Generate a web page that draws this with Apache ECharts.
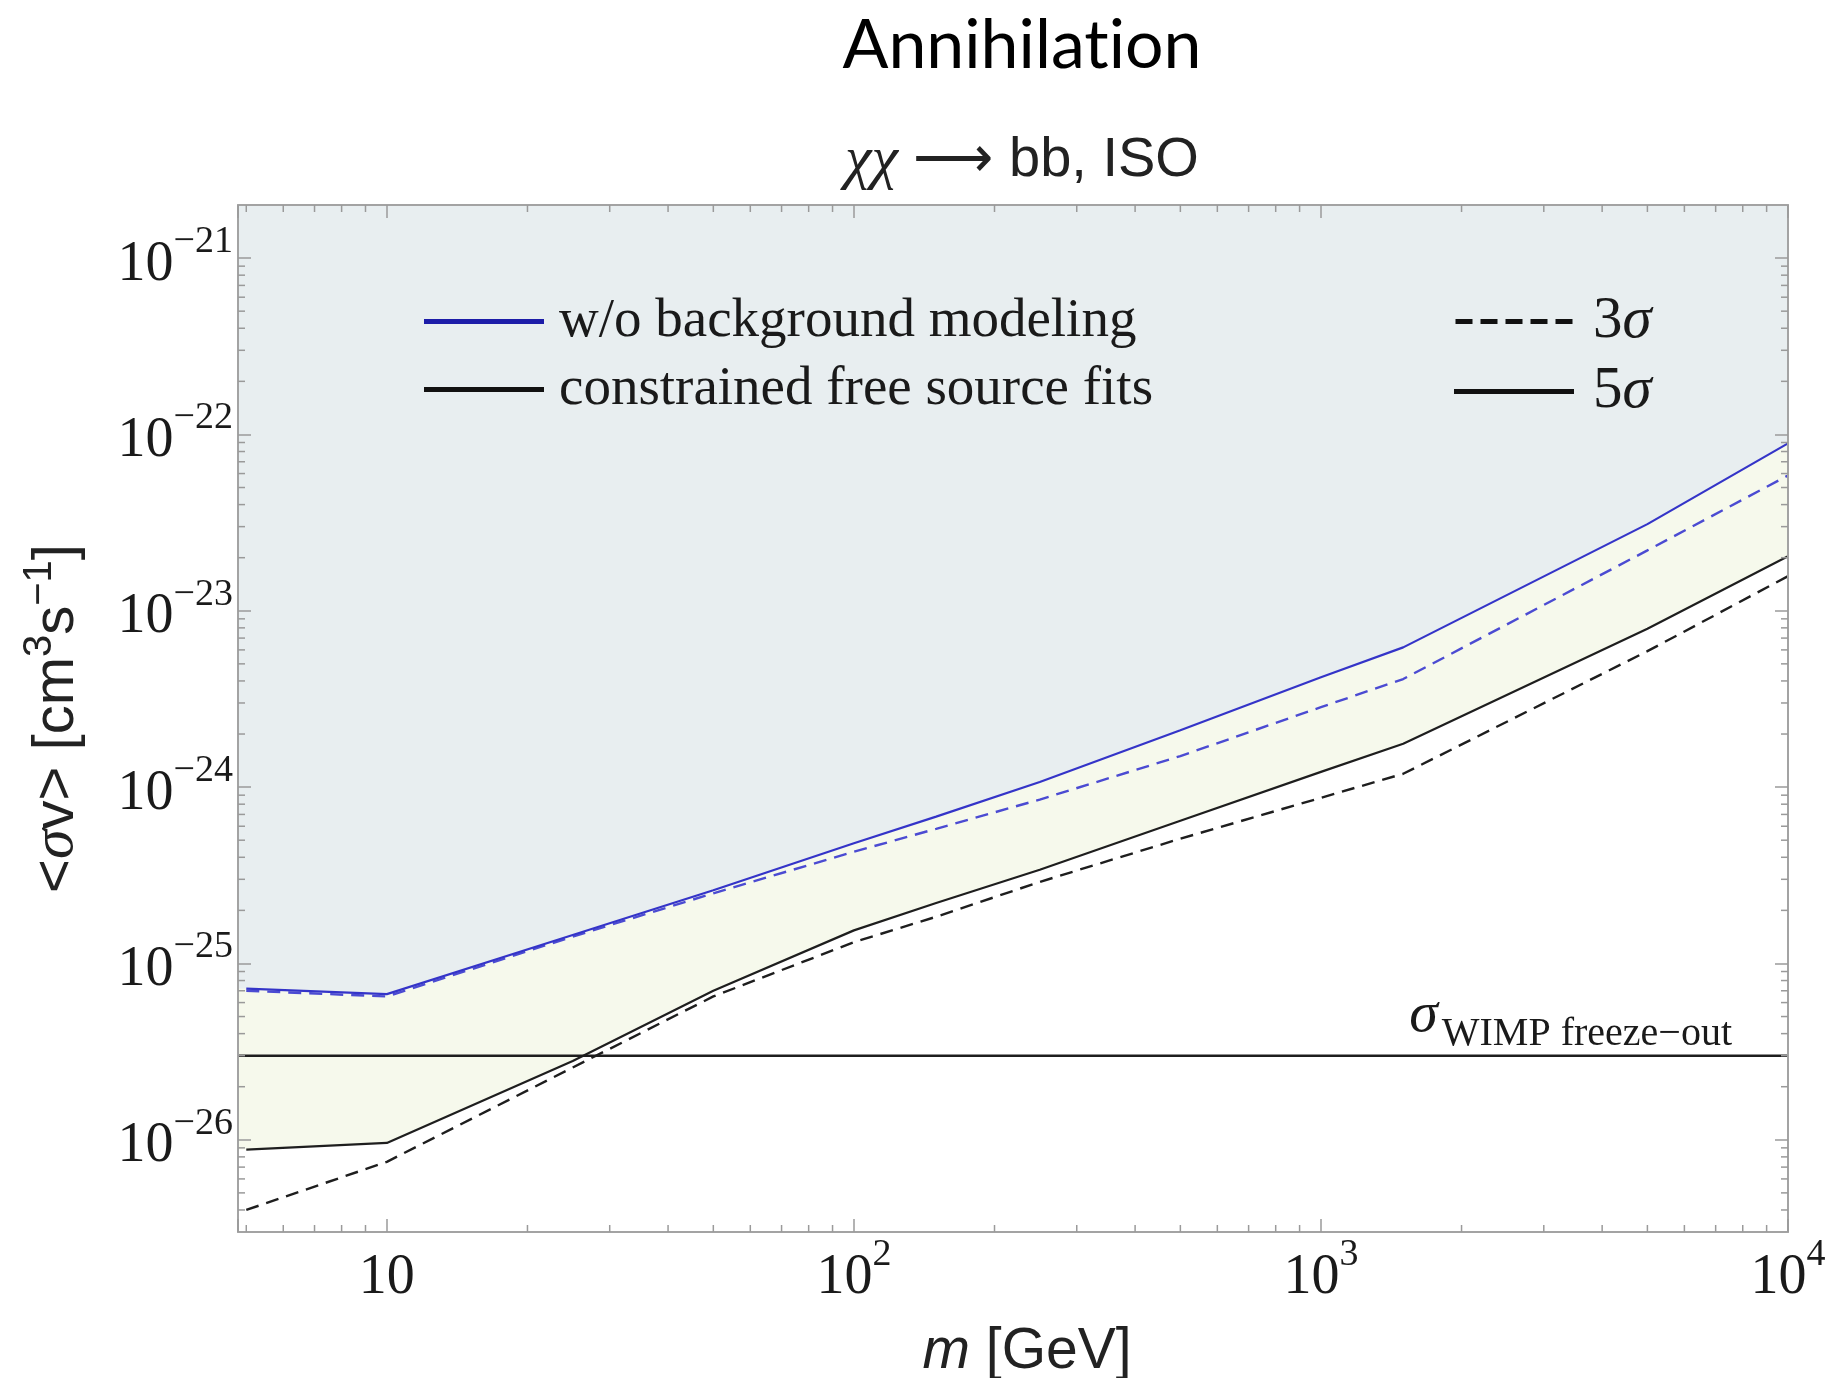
<!DOCTYPE html>
<html>
<head>
<meta charset="utf-8">
<script src="https://cdn.jsdelivr.net/npm/echarts@6/dist/echarts.min.js"></script>
<style>
html,body{margin:0;padding:0;background:#ffffff;}
#chart{width:1837px;height:1378px;}
</style>
</head>
<body>
<div id="chart"></div>
<script>
// ---------- data ----------
const masses = [5, 10, 25, 50, 100, 150, 250, 500, 1000, 1500, 5000, 10000];
const noBgModel5sigma = [7.2e-26, 6.7e-26, 1.45e-25, 2.6e-25, 4.8e-25, 6.8e-25, 1.07e-24, 2.1e-24, 4.2e-24, 6.2e-24, 3.1e-23, 8.9e-23];
const noBgModel3sigma = [7.0e-26, 6.5e-26, 1.42e-25, 2.5e-25, 4.3e-25, 5.8e-25, 8.5e-25, 1.5e-24, 2.84e-24, 4.1e-24, 2.2e-23, 5.85e-23];
const freeFits5sigma = [8.8e-27, 9.6e-27, 2.8e-26, 7.0e-26, 1.54e-25, 2.2e-25, 3.4e-25, 6.45e-25, 1.22e-24, 1.76e-24, 7.9e-24, 2.04e-23];
const freeFits3sigma = [4.0e-27, 7.5e-27, 2.57e-26, 6.5e-26, 1.32e-25, 1.84e-25, 2.9e-25, 5.1e-25, 8.7e-25, 1.19e-24, 5.9e-24, 1.57e-23];
const wimpFreezeOut = 3e-26;

const xRange = [4.8, 10000];
const yRange = [3e-27, 2e-21];
const xDecades = [1, 10, 100, 1000, 10000];
const yDecades = [1e-27, 1e-26, 1e-25, 1e-24, 1e-23, 1e-22, 1e-21];
const minorMultipliers = [2, 3, 4, 5, 6, 7, 8, 9];

const legendLeftNames = ['w/o background modeling', 'constrained free source fits'];
const legendRightNames = ['3σ', '5σ'];

// ---------- helpers ----------
const SERIF = 'Liberation Serif';
const SANS = 'Liberation Sans';
const TEXT = '#1a1a1a';
const FRAME = '#a3a3a3';
const TICK = '#9a9a9a';

const pairs = (ys) => masses.map((m, i) => [m, ys[i]]);
const xMinor = xDecades.flatMap(d => minorMultipliers.map(k => k * d)).filter(v => v > xRange[0] && v < xRange[1]);
const yMinor = yDecades.flatMap(d => minorMultipliers.map(k => k * d)).filter(v => v > yRange[0] * 1.0001 && v < yRange[1]);

function powLabel(v) {
  if (!(v > 0) || !isFinite(v)) return '';
  const e = Math.round(Math.log10(v));
  if (!isFinite(e) || Math.abs(v / Math.pow(10, e) - 1) > 1e-6) return '';
  if (e === 1) return '{b|10}';
  return '{b|10}{s|' + (e < 0 ? '\u2212' + (-e) : e) + '}';
}
const powRich = {
  b: {fontFamily: SERIF, fontSize: 56, color: TEXT, lineHeight: 70, verticalAlign: 'bottom'},
  s: {fontFamily: SERIF, fontSize: 38, color: TEXT, lineHeight: 40, verticalAlign: 'top'}
};

function minorTicks(values, isX) {
  return {
    type: 'custom', silent: true, z: 20, clip: false,
    data: values.map(v => isX ? [v, yRange[0]] : [xRange[0], v]),
    renderItem: function (params, api) {
      const cs = params.coordSys;
      const p = api.coord([api.value(0), api.value(1)]);
      const L = 7;
      const st = {stroke: TICK, lineWidth: 1.5};
      if (isX) {
        const x = p[0], yb = cs.y + cs.height, yt = cs.y;
        return {type: 'group', children: [
          {type: 'line', shape: {x1: x, y1: yb, x2: x, y2: yb - L}, style: st},
          {type: 'line', shape: {x1: x, y1: yt, x2: x, y2: yt + L}, style: st}
        ]};
      }
      const y = p[1], xl = cs.x, xr = cs.x + cs.width;
      return {type: 'group', children: [
        {type: 'line', shape: {x1: xl, y1: y, x2: xl + L, y2: y}, style: st},
        {type: 'line', shape: {x1: xr, y1: y, x2: xr - L, y2: y}, style: st}
      ]};
    }
  };
}

// region above a curve, up to the top of the frame
function regionAbove(ys, color) {
  return {
    type: 'custom', silent: true, z: 1, clip: true,
    data: [[masses[0], ys[0]]],
    renderItem: function (params, api) {
      const cs = params.coordSys;
      const pts = masses.map((m, i) => api.coord([m, ys[i]]));
      const poly = [[cs.x, pts[0][1]]].concat(pts, [
        [cs.x + cs.width, pts[pts.length - 1][1]],
        [cs.x + cs.width, cs.y],
        [cs.x, cs.y]
      ]);
      return {type: 'polygon', shape: {points: poly}, style: {fill: color}};
    }
  };
}

const axisCommon = {
  axisLine: {show: true, onZero: false, lineStyle: {color: FRAME, width: 2}},
  axisTick: {show: true, inside: true, length: 13, lineStyle: {color: TICK, width: 1.5}},
  splitLine: {show: false},
  minorTick: {show: false},
  z: 10
};

const dashIcon = 'path://M0,0h17v5h-17z M25,0h17v5h-17z M50,0h17v5h-17z M75,0h17v5h-17z M100,0h17v5h-17z';

const chart = echarts.init(document.getElementById('chart'), null, {renderer: 'canvas'});
chart.setOption({
  animation: false,
  backgroundColor: '#ffffff',
  title: [
    {text: 'Annihilat\u200Cion', left: 1022, top: 12, textAlign: 'center', padding: 0,
     textStyle: {fontFamily: 'Lato', fontSize: 68, fontWeight: 'normal', color: '#000'}},
    {text: '{c|χχ} ⟶ bb, ISO', left: 1022, top: 131, textAlign: 'center', padding: 0,
     textStyle: {fontFamily: SANS, fontSize: 56, fontWeight: 'normal', color: '#222',
       rich: {c: {fontFamily: SERIF, fontStyle: 'italic', fontSize: 60, color: '#222'}}}}
  ],
  grid: {left: 238, right: 49, top: 205, bottom: 146, containLabel: false, outerBoundsMode: 'none'},
  xAxis: [
    Object.assign({}, axisCommon, {
      type: 'log', logBase: 10, min: xRange[0], max: xRange[1], position: 'bottom',
      axisLabel: {show: true, margin: 4, formatter: powLabel, rich: powRich},
      name: '{i|m} [GeV]', nameLocation: 'middle', nameGap: 92, nameMoveOverlap: false,
      nameTextStyle: {fontFamily: SANS, fontSize: 57, color: '#222', padding: [0, 0, 0, 28],
        rich: {i: {fontFamily: SANS, fontStyle: 'italic', fontSize: 57, color: '#222'}}}
    }),
    Object.assign({}, axisCommon, {
      type: 'log', logBase: 10, min: xRange[0], max: xRange[1], position: 'top',
      axisLabel: {show: false}
    })
  ],
  yAxis: [
    Object.assign({}, axisCommon, {
      type: 'log', logBase: 10, min: yRange[0], max: yRange[1], position: 'left',
      axisLabel: {show: true, margin: 5, formatter: powLabel, rich: powRich},
      name: '{n|<}{g|σ}{n|v> [cm}{u|3}{n|s}{u|\u22121}{n|]}', nameLocation: 'middle', nameRotate: 90, nameGap: 152,
      nameMoveOverlap: false,
      nameTextStyle: {fontFamily: SANS, fontSize: 58, color: '#222',
        rich: {
          n: {fontFamily: SANS, fontSize: 58, color: '#222', lineHeight: 66, verticalAlign: 'bottom'},
          g: {fontFamily: SERIF, fontStyle: 'italic', fontSize: 60, color: '#222', lineHeight: 66, verticalAlign: 'bottom'},
          u: {fontFamily: SANS, fontSize: 40, color: '#222', lineHeight: 42, verticalAlign: 'top'}
        }}
    }),
    Object.assign({}, axisCommon, {
      type: 'log', logBase: 10, min: yRange[0], max: yRange[1], position: 'right',
      axisLabel: {show: false}
    })
  ],
  legend: [
    {data: legendLeftNames, left: 419, top: 289, orient: 'vertical', itemWidth: 120, itemHeight: 5,
     itemGap: 13, icon: 'rect', selectedMode: false,
     textStyle: {fontFamily: SERIF, fontSize: 55, color: TEXT, padding: [0, 0, 0, 10]}},
    {data: [{name: legendRightNames[0], icon: dashIcon}, {name: legendRightNames[1], icon: 'rect'}],
     left: 1449, top: 287, orient: 'vertical', itemWidth: 120, itemHeight: 5, itemGap: 11, selectedMode: false,
     formatter: n => '{n|' + n.charAt(0) + '}{i|σ}',
     textStyle: {fontFamily: SERIF, fontSize: 59, color: TEXT, padding: [0, 0, 0, 14],
       rich: {n: {fontFamily: SERIF, fontSize: 59, color: TEXT},
              i: {fontFamily: SERIF, fontStyle: 'italic', fontSize: 59, color: TEXT}}}}
  ],
  series: [
    // shaded regions
    regionAbove(freeFits5sigma, '#f6f9ec'),
    regionAbove(noBgModel5sigma, '#e8eef0'),
    // curves
    {name: 'noBg3', type: 'line', data: pairs(noBgModel3sigma), symbol: 'none', z: 3,
     lineStyle: {color: '#4b4bd2', width: 2.4, type: [13, 8]}},
    {name: 'noBg5', type: 'line', data: pairs(noBgModel5sigma), symbol: 'none', z: 3,
     lineStyle: {color: '#3434c8', width: 2.2}},
    {name: 'fits3', type: 'line', data: pairs(freeFits3sigma), symbol: 'none', z: 3,
     lineStyle: {color: '#1e1e1e', width: 2.4, type: [13, 8]}},
    {name: 'fits5', type: 'line', data: pairs(freeFits5sigma), symbol: 'none', z: 3,
     lineStyle: {color: '#1e1e1e', width: 2.2}},
    // WIMP freeze-out reference line with its label
    {name: 'wimp', type: 'custom', silent: true, z: 4, clip: false,
     data: [[xRange[1], wimpFreezeOut]],
     renderItem: function (params, api) {
       const cs = params.coordSys;
       const p = api.coord([api.value(0), api.value(1)]);
       return {type: 'group', children: [
         {type: 'line', shape: {x1: cs.x, y1: p[1], x2: cs.x + cs.width, y2: p[1]},
          style: {stroke: '#1e1e1e', lineWidth: 2.5}},
         {type: 'text', x: p[0] - 56, y: p[1] - 1,
          style: {text: '{s|σ}{t|WIMP freeze\u2212out}', align: 'right', verticalAlign: 'bottom',
            rich: {
              s: {fontFamily: SERIF, fontStyle: 'italic', fontSize: 58, fill: TEXT, verticalAlign: 'bottom', padding: [0, 4, 10, 0]},
              t: {fontFamily: SERIF, fontSize: 40, fill: TEXT, lineHeight: 50, verticalAlign: 'bottom'}
            }}}
       ]};
     }},
    // legend-only entries
    {name: legendLeftNames[0], type: 'line', data: [], symbol: 'none', itemStyle: {color: '#1c1ca8'}, lineStyle: {color: '#1c1ca8', width: 5}},
    {name: legendLeftNames[1], type: 'line', data: [], symbol: 'none', itemStyle: {color: '#111'}, lineStyle: {color: '#111', width: 5}},
    {name: legendRightNames[0], type: 'line', data: [], symbol: 'none', itemStyle: {color: '#111'}, lineStyle: {color: '#111', width: 5, type: 'dashed'}},
    {name: legendRightNames[1], type: 'line', data: [], symbol: 'none', itemStyle: {color: '#111'}, lineStyle: {color: '#111', width: 5}},
    // minor ticks
    minorTicks(xMinor, true),
    minorTicks(yMinor, false)
  ]
});
</script>
</body>
</html>
